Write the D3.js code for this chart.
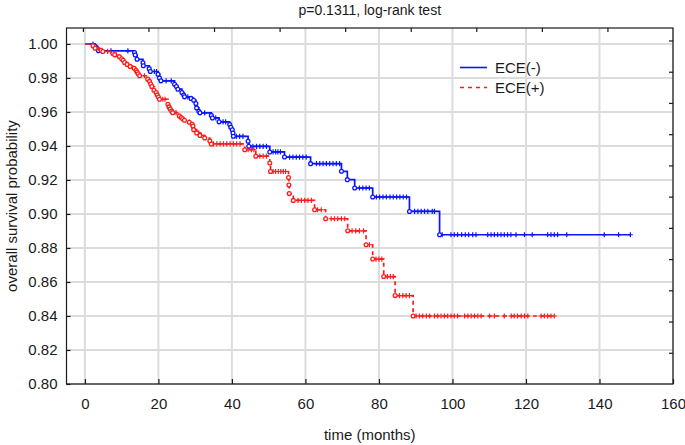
<!DOCTYPE html>
<html>
<head>
<meta charset="utf-8">
<script src="https://cdn.jsdelivr.net/npm/d3@7"></script>
<style>
  html, body { margin: 0; padding: 0; background: #fff; }
  svg { display: block; font-family: "Liberation Sans", Arial, sans-serif; }
</style>
</head>
<body>
<svg id="chart" width="685" height="445"></svg>
<script>
// ---------------- data ----------------
const title = "p=0.1311, log-rank test";
const xLabel = "time (months)";
const yLabel = "overall survival probability";
const xTicks = [0, 20, 40, 60, 80, 100, 120, 140, 160];
const yTicks = [0.80, 0.82, 0.84, 0.86, 0.88, 0.90, 0.92, 0.94, 0.96, 0.98, 1.00];
const topTicks = [0, 20, 40, 60, 80, 100, 120, 140, 160];
const rightTicks = [0.1, 0.2, 0.3, 0.4, 0.5, 0.6, 0.7, 0.8, 0.9, 1.0, 1.1];
const seriesNames = ["ECE(-)", "ECE(+)"];

// ECE(-): events [time, survival after event]
const blueEvents = [
  [2.8, 0.9987], [3.3, 0.9974], [3.7, 0.9960],
  [13.5, 0.9950], [13.7, 0.9935], [14.2, 0.9910],
  [15.8, 0.9890], [15.9, 0.9872],
  [17.5, 0.9855], [17.8, 0.9838],
  [19.9, 0.9822], [20.3, 0.9800], [20.7, 0.9783],
  [24.4, 0.9763], [24.9, 0.9750], [25.3, 0.9734],
  [26.4, 0.9714], [26.9, 0.9700], [27.1, 0.9689],
  [28.9, 0.9680], [29.6, 0.9669], [30.2, 0.9650], [30.4, 0.9624], [31.0, 0.9604], [31.3, 0.9595],
  [34.4, 0.9580], [34.7, 0.9565],
  [36.5, 0.9542],
  [39.4, 0.9526], [39.7, 0.9510], [40.1, 0.9495], [40.3, 0.9476], [40.4, 0.9457],
  [44.4, 0.9428], [44.6, 0.9398],
  [50.3, 0.9365],
  [54.3, 0.9335],
  [61.4, 0.9296],
  [69.8, 0.9251],
  [71.4, 0.9202],
  [73.4, 0.9153],
  [78.3, 0.9100],
  [88.3, 0.9015],
  [96.5, 0.8878]
];
const blueCensored = [
  2.2, 7.1, 11.7, 18.9, 19.5, 22.1, 23.5, 28.0, 32.6, 35.6, 37.6, 38.3,
  41.2, 42.1, 43.0, 45.7, 46.7, 47.6, 48.5, 49.4, 51.2, 51.9, 52.5, 53.2,
  55.7, 56.6, 57.5, 58.4, 59.3, 60.2, 63.0, 63.9, 64.8, 65.7, 66.6, 67.5, 68.4, 69.3,
  74.7, 75.6, 76.5, 77.4, 79.3, 80.2, 81.1, 82.0, 83.0, 83.9, 84.8, 85.7, 86.6, 87.5,
  89.7, 90.6, 91.5, 92.4, 93.3, 94.5, 95.1,
  97.2, 99.6, 100.5, 101.4, 102.5, 103.5, 104.4, 105.5, 106.4, 109.6, 110.5, 111.4,
  112.3, 113.2, 114.1, 115.0, 115.9, 117.3, 119.6, 121.7, 125.9, 126.8, 127.7, 128.6,
  131.1, 141.3, 145.2, 148.4
];

// ECE(+): events [time, survival after event]
const redEvents = [
  [2.2, 0.9989], [2.8, 0.9975],
  [4.4, 0.9963], [4.9, 0.9956],
  [7.6, 0.9944], [8.1, 0.9936],
  [9.4, 0.9925], [10.0, 0.9913], [10.4, 0.9904], [10.8, 0.9891],
  [11.5, 0.9880], [12.3, 0.9868], [13.4, 0.9857], [13.9, 0.9845], [14.2, 0.9835], [14.5, 0.9825], [14.9, 0.9813],
  [17.1, 0.9793], [17.6, 0.9780], [17.9, 0.9765], [18.2, 0.9750], [18.8, 0.9728],
  [19.4, 0.9714], [19.7, 0.9700], [20.0, 0.9688], [20.3, 0.9675],
  [22.6, 0.9645], [22.9, 0.9630], [23.2, 0.9618], [23.6, 0.9605], [23.9, 0.9596],
  [25.7, 0.9577], [26.2, 0.9568], [26.6, 0.9560], [27.1, 0.9551],
  [28.4, 0.9540], [29.2, 0.9528], [29.4, 0.9516], [29.6, 0.9496],
  [30.4, 0.9477], [31.3, 0.9462], [32.6, 0.9447], [34.0, 0.9430], [34.4, 0.9412],
  [43.5, 0.9378], [46.5, 0.9340], [50.3, 0.9300], [50.5, 0.9250],
  [55.4, 0.9215], [55.5, 0.9170], [55.6, 0.9120], [56.7, 0.9080],
  [62.5, 0.9025], [65.5, 0.8972], [71.5, 0.8901], [76.5, 0.8819],
  [78.3, 0.8735], [81.3, 0.8632], [84.4, 0.8520], [89.3, 0.8400]
];
const redCensored = [
  3.7, 6.2, 8.5, 16.2, 18.5, 21.2, 21.8, 24.8, 31.0, 31.7,
  35.0, 35.9, 36.8, 37.7, 38.6, 39.5, 40.4, 41.3, 42.2,
  44.4, 45.3, 46.0, 47.6, 48.5, 49.4, 51.2, 51.9, 52.6, 53.3, 54.0, 54.6,
  58.0, 58.9, 59.8, 60.7, 61.6, 63.3, 64.3, 67.0, 67.9, 68.8, 69.8, 70.7,
  72.7, 73.7, 74.7, 75.8, 77.4, 79.2, 80.0, 80.8, 82.3, 83.1, 83.9,
  85.6, 86.5, 87.4, 88.3,
  90.1, 91.0, 91.9, 92.9, 93.8, 95.1, 96.0, 96.9, 97.8, 98.7, 99.6, 100.5, 101.4,
  103.3, 104.2, 105.1, 106.0, 106.9, 107.8, 110.1, 111.4, 114.1, 116.0, 116.8,
  117.7, 118.7, 119.6, 120.5, 124.1, 125.0, 125.9, 126.8, 127.7
];

// ---------------- layout ----------------
const svg = d3.select("#chart");
const L = 66.5, R = 673, T = 28, B = 384;
const x = d3.scaleLinear().domain([-5, 160]).range([L, R]);
const y = d3.scaleLinear().domain([0.80, 1.0094]).range([B, T]);
const xTop = d3.scaleLinear().domain([-5, 180]).range([L, R]);
const yRight = d3.scaleLinear().domain([0, 1.14]).range([B, T]);

const blueColor = "#0a14ff";
const redColor = "#ff1a1a";

// gridlines
const grid = svg.append("g");
grid.selectAll("line.v").data(xTicks).join("line")
  .attr("x1", d => x(d)).attr("x2", d => x(d)).attr("y1", T).attr("y2", B)
  .attr("stroke", "#dcdcdc").attr("stroke-width", 2);
grid.selectAll("line.h").data(yTicks).join("line")
  .attr("x1", L).attr("x2", R).attr("y1", d => y(d)).attr("y2", d => y(d))
  .attr("stroke", "#dcdcdc").attr("stroke-width", 2);

// KM helpers
function survAt(events, t) {
  let s = 1;
  for (const e of events) { if (e[0] <= t) s = e[1]; else break; }
  return s;
}
function drawSeries(events, censored, color, dash) {
  const tEnd = d3.max(censored.concat(events.map(e => e[0])));
  const pts = [[0, 1]].concat(events).concat([[tEnd, events[events.length - 1][1]]]);
  const line = d3.line().x(d => x(d[0])).y(d => y(d[1])).curve(d3.curveStepAfter);
  const g = svg.append("g");
  g.append("path").attr("d", line(pts)).attr("fill", "none")
    .attr("stroke", color).attr("stroke-width", 1.7)
    .attr("stroke-dasharray", dash || null);
  // censored marks (+)
  g.selectAll("path.c").data(censored).join("path")
    .attr("d", d => {
      const cx = x(d), cy = y(survAt(events, d));
      return `M${cx},${cy - 2.6}V${cy + 2.6}M${cx - 2.5},${cy}H${cx + 2.5}`;
    })
    .attr("stroke", color).attr("stroke-width", 1.2).attr("fill", "none");
  // event circles
  g.selectAll("circle").data(events).join("circle")
    .attr("cx", d => x(d[0])).attr("cy", d => y(d[1])).attr("r", 1.9)
    .attr("fill", "#fff").attr("stroke", color).attr("stroke-width", 1.3);
}
drawSeries(blueEvents, blueCensored, blueColor, null);
drawSeries(redEvents, redCensored, redColor, "4,3.5");

// frame
svg.append("rect").attr("x", L).attr("y", T).attr("width", R - L).attr("height", B - T)
  .attr("fill", "none").attr("stroke", "#1a1a1a").attr("stroke-width", 1.2);

// axes
const fontSize = 15;
const axB = svg.append("g").attr("transform", `translate(0,${B})`)
  .call(d3.axisBottom(x).tickValues(xTicks).tickSize(-5).tickPadding(14).tickFormat(d3.format("d")));
const axL = svg.append("g").attr("transform", `translate(${L},0)`)
  .call(d3.axisLeft(y).tickValues(yTicks).tickSize(-4).tickPadding(9).tickFormat(d3.format(".2f")));
const axT = svg.append("g").attr("transform", `translate(0,${T})`)
  .call(d3.axisTop(xTop).tickValues(topTicks).tickSize(-4).tickFormat(""));
const axR = svg.append("g").attr("transform", `translate(${R},0)`)
  .call(d3.axisRight(yRight).tickValues(rightTicks).tickSize(-4).tickFormat(""));
[axB, axL, axT, axR].forEach(a => {
  a.select(".domain").remove();
  a.selectAll(".tick line").attr("stroke", "#1a1a1a").attr("stroke-width", 1.2);
  a.selectAll(".tick text").attr("font-size", fontSize).attr("fill", "#1a1a1a")
    .attr("font-family", "Liberation Sans, Arial, sans-serif");
});

// title and axis labels
svg.append("text").attr("x", (L + R) / 2).attr("y", 15).attr("text-anchor", "middle")
  .attr("font-size", 14).attr("fill", "#1a1a1a").text(title);
svg.append("text").attr("x", (L + R) / 2).attr("y", 440).attr("text-anchor", "middle")
  .attr("font-size", fontSize).attr("fill", "#1a1a1a").text(xLabel);
svg.append("text").attr("transform", `translate(17,${(T + B) / 2}) rotate(-90)`)
  .attr("text-anchor", "middle").attr("font-size", fontSize).attr("fill", "#1a1a1a").text(yLabel);

// legend
const legend = svg.append("g");
const legY = [67.5, 87.5];
const legColors = [blueColor, redColor];
const legDash = [null, "4,4"];
seriesNames.forEach((name, i) => {
  legend.append("line").attr("x1", 460).attr("x2", 487).attr("y1", legY[i]).attr("y2", legY[i])
    .attr("stroke", legColors[i]).attr("stroke-width", 1.6).attr("stroke-dasharray", legDash[i]);
  legend.append("text").attr("x", 495).attr("y", legY[i]).attr("dy", "0.36em")
    .attr("font-size", fontSize).attr("fill", "#1a1a1a").text(name);
});
</script>
</body>
</html>
